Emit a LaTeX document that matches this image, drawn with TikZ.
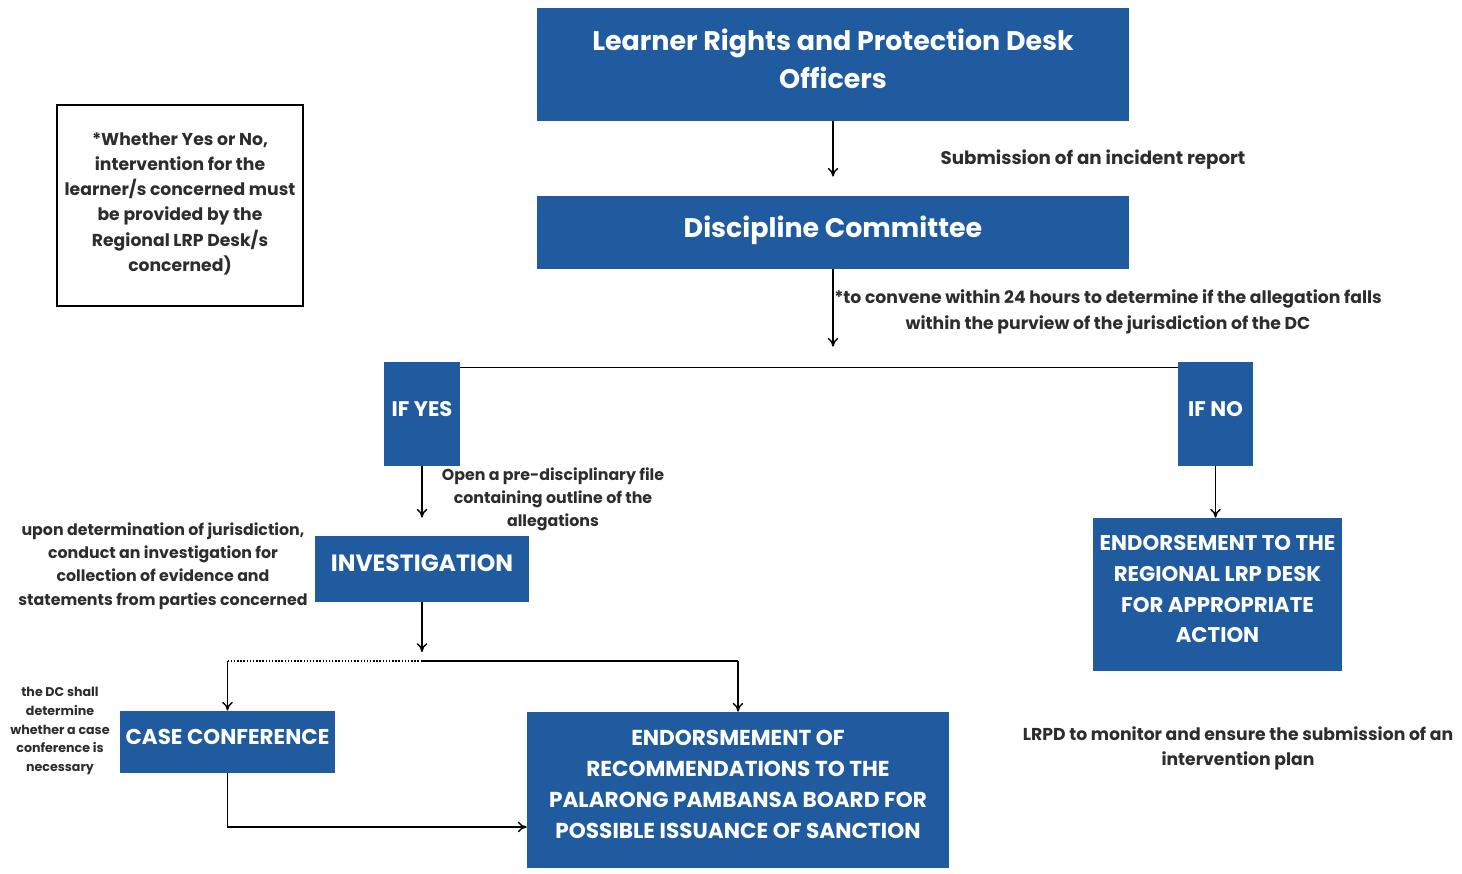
\documentclass[tikz,border=0pt]{standalone}
\usepackage{fontspec}
\setmainfont{Poppins}
\usetikzlibrary{positioning}
\usetikzlibrary{arrows.meta}
\definecolor{lrpblue}{RGB}{31,91,158}
\definecolor{lrptext}{RGB}{45,45,45}
\tikzset{
	bluebox/.style = {fill = lrpblue, text = white, align = center, inner sep = 2pt, font = \bfseries, text depth = 0.22cm},
	note/.style = {text = lrptext, align = center, font = \bfseries\fontsize{9.8}{14.3}\selectfont},
	arr/.style = {black, thick, -{To[length = 5pt, width = 6pt]}}
}

\begin{document}
\begin{tikzpicture}[x = 0.02cm, y = -0.02cm]
	\useasboundingbox (0, 0) rectangle (1462, 873);
	% boxes
	\node[bluebox, minimum width = 11.84cm, minimum height = 2.26cm, font = \bfseries\fontsize{15.3}{21.5}\selectfont] (lrpd) at (833, 64.5) {Learner Rights and Protection Desk\\Officers};
	\node[bluebox, minimum width = 11.84cm, minimum height = 1.46cm, font = \bfseries\fontsize{15.3}{18}\selectfont] (dc) at (833, 232.5) {Discipline Committee};
	\node[bluebox, minimum width = 1.52cm, minimum height = 2.08cm, font = \bfseries\fontsize{12}{14}\selectfont] (ifyes) at (422, 414) {IF YES};
	\node[bluebox, minimum width = 1.5cm, minimum height = 2.08cm, font = \bfseries\fontsize{12}{14}\selectfont] (ifno) at (1215.5, 414) {IF NO};
	\node[bluebox, minimum width = 4.28cm, minimum height = 1.32cm, font = \bfseries\fontsize{13.4}{16}\selectfont] (invest) at (422, 569) {INVESTIGATION};
	\node[bluebox, minimum width = 4.3cm, minimum height = 1.24cm, font = \bfseries\fontsize{12.2}{14}\selectfont] (caseconf) at (227.5, 742) {CASE CONFERENCE};
	\node[bluebox, minimum width = 8.44cm, minimum height = 3.12cm, font = \bfseries\fontsize{12.3}{17.6}\selectfont] (endrec) at (738, 790) {ENDORSMEMENT OF\\RECOMMENDATIONS TO THE\\PALARONG PAMBANSA BOARD FOR\\POSSIBLE ISSUANCE OF SANCTION};
	\node[bluebox, minimum width = 4.98cm, minimum height = 3.06cm, font = \bfseries\fontsize{12.1}{17.6}\selectfont] (endreg) at (1217.5, 594.5) {ENDORSEMENT TO THE\\REGIONAL LRP DESK\\FOR APPROPRIATE\\ACTION};
	\node[note, draw = black, thick, minimum width = 4.92cm, minimum height = 4.02cm, text depth = 0.14cm] (yesno) at (180, 205.5) {*Whether Yes or No,\\intervention for the\\learner/s concerned must\\be provided by the\\Regional LRP Desk/s\\concerned)};
	% labels
	\node[note, font = \bfseries\fontsize{10.4}{14.3}\selectfont] (submit) at (1093, 160) {Submission of an incident report};
	\node[note, font = \bfseries\fontsize{9.8}{14.8}\selectfont] (convene) at (1108, 312) {*to convene within 24 hours to determine if the allegation falls\\within the purview of the jurisdiction of the DC};
	\node[note, font = \bfseries\fontsize{9}{13}\selectfont] (prefile) at (553, 499) {Open a pre-disciplinary file\\containing outline of the\\allegations};
	\node[note, font = \bfseries\fontsize{9}{13.2}\selectfont] (upon) at (163, 566) {upon determination of jurisdiction,\\conduct an investigation for\\collection of evidence and\\statements from parties concerned};
	\node[note, font = \bfseries\fontsize{7.2}{10.6}\selectfont] (dcshall) at (60, 731) {the DC shall\\determine\\whether a case\\conference is\\necessary};
	\node[note] (monitor) at (1238, 748) {LRPD to monitor and ensure the submission of an\\intervention plan};
	% connectors
	\coordinate (fork) at (invest.south |- 0, 661);
	\coordinate (forkl) at (caseconf.north |- fork);
	\coordinate (forkr) at (endrec.north |- fork);
	\draw[arr, shorten > = 0.38cm] (lrpd.south) -- (dc.north);
	\draw[arr, shorten > = 0.3cm] (dc.south) -- (dc.south |- ifyes.north);
	\draw[black, thick] ([yshift = -0.12cm]ifyes.north east) -- ([yshift = -0.12cm]ifno.north west);
	\draw[arr, shorten > = 0.36cm] (ifyes.south) -- (invest.north);
	\draw[arr, shorten > = 0.18cm] (invest.south) -- (fork);
	\draw[black, thick, densely dotted] (fork) -- (forkl);
	\draw[black, thick] (fork) -- (forkr);
	\draw[arr] (forkl) -- (caseconf.north);
	\draw[arr] (forkr) -- (endrec.north);
	\draw[arr] (caseconf.south) |- ([yshift = -0.74cm]endrec.west);
	\draw[arr] (ifno.south) -- (ifno.south |- endreg.north);
\end{tikzpicture}
\end{document}
